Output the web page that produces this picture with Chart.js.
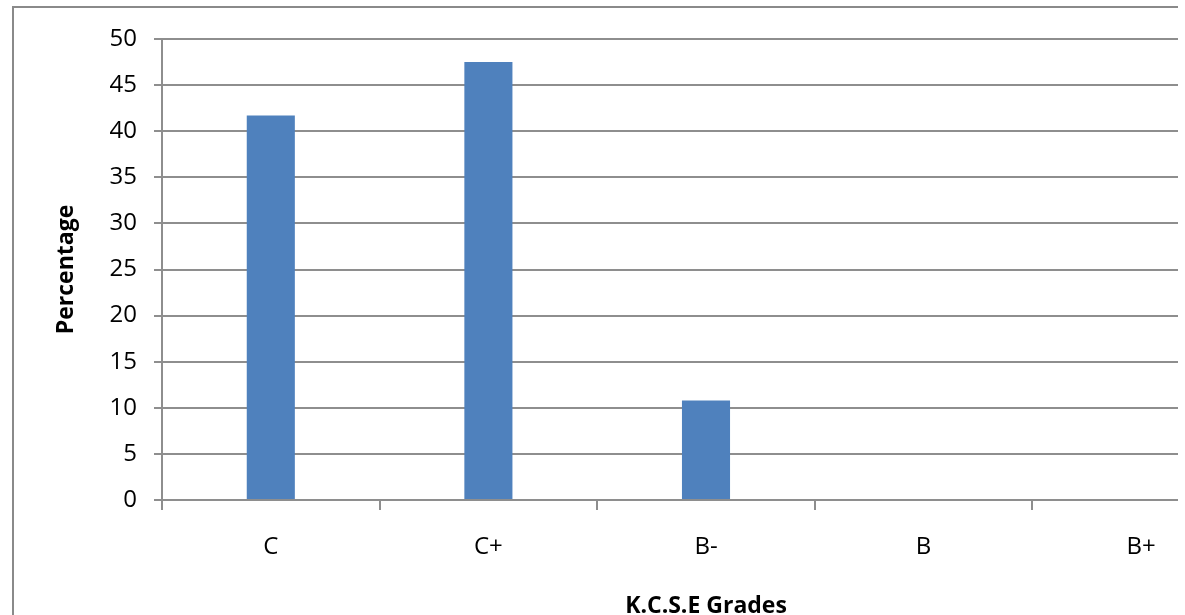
<!DOCTYPE html>
<html>
<head>
<meta charset="utf-8">
<title>K.C.S.E Grades</title>
<script src="https://cdn.jsdelivr.net/npm/chart.js@4.4.1/dist/chart.umd.min.js"></script>
<style>
  html, body { margin: 0; padding: 0; background: #fff; overflow: hidden; }
  #clip { position: absolute; left: 0; top: 0; width: 1178px; height: 615px; overflow: hidden; background: #fff; }
  #c { position: absolute; left: 0; top: 0; }
  #frame { position: absolute; left: 12px; top: 6px; width: 1400px; height: 800px;
           border: 2px solid #8a8a8a; box-sizing: border-box; pointer-events: none; }
</style>
</head>
<body>
<div id="clip">
  <canvas id="c" width="1300" height="640"></canvas>
  <div id="frame"></div>
</div>
<script>
// Grade categories and the share of candidates in each (percent)
const categories = ['C', 'C+', 'B-', 'B', 'B+'];
const percentages = [41.7, 47.5, 10.8, 0, 0];

// Value axis range and step
const yMin = 0;
const yMax = 50;
const yStep = 5;

const axisTitleX = 'K.C.S.E Grades';
const axisTitleY = 'Percentage';

const FONT = "'Open Sans', 'Liberation Sans', sans-serif";
const GRID = '#8e8e8e';

new Chart(document.getElementById('c'), {
  type: 'bar',
  data: {
    labels: categories,
    datasets: [{
      data: percentages,
      backgroundColor: '#4f81bd',
      borderWidth: 0,
      categoryPercentage: 1,
      barPercentage: 0.221
    }]
  },
  options: {
    responsive: false,
    animation: false,
    devicePixelRatio: 1,
    layout: { padding: { left: 0, top: 39, right: 50, bottom: 0 } },
    plugins: { legend: { display: false }, tooltip: { enabled: false } },
    scales: {
      x: {
        afterFit: (s) => { s.height = 140; },
        grid: { drawOnChartArea: false, drawTicks: true, tickLength: 10, offset: true, color: GRID, lineWidth: 2 },
        border: { display: true, color: GRID, width: 2 },
        ticks: { color: '#000', padding: 23, font: { family: FONT, size: 24 } },
        title: {
          display: true, text: axisTitleX, color: '#000',
          font: { family: FONT, size: 23, weight: 'bold' },
          padding: { top: 0, bottom: 20 }
        }
      },
      y: {
        min: yMin, max: yMax,
        afterFit: (s) => { s.width = 162; },
        grid: { color: GRID, lineWidth: 2, tickLength: 8, drawTicks: true },
        border: { display: true, color: GRID, width: 2 },
        ticks: { stepSize: yStep, color: '#000', padding: 17, font: { family: FONT, size: 24 } },
        title: {
          display: true, text: axisTitleY, color: '#000',
          font: { family: FONT, size: 23, weight: 'bold' },
          padding: { top: 53, bottom: 0 }
        }
      }
    }
  }
});
</script>
</body>
</html>
